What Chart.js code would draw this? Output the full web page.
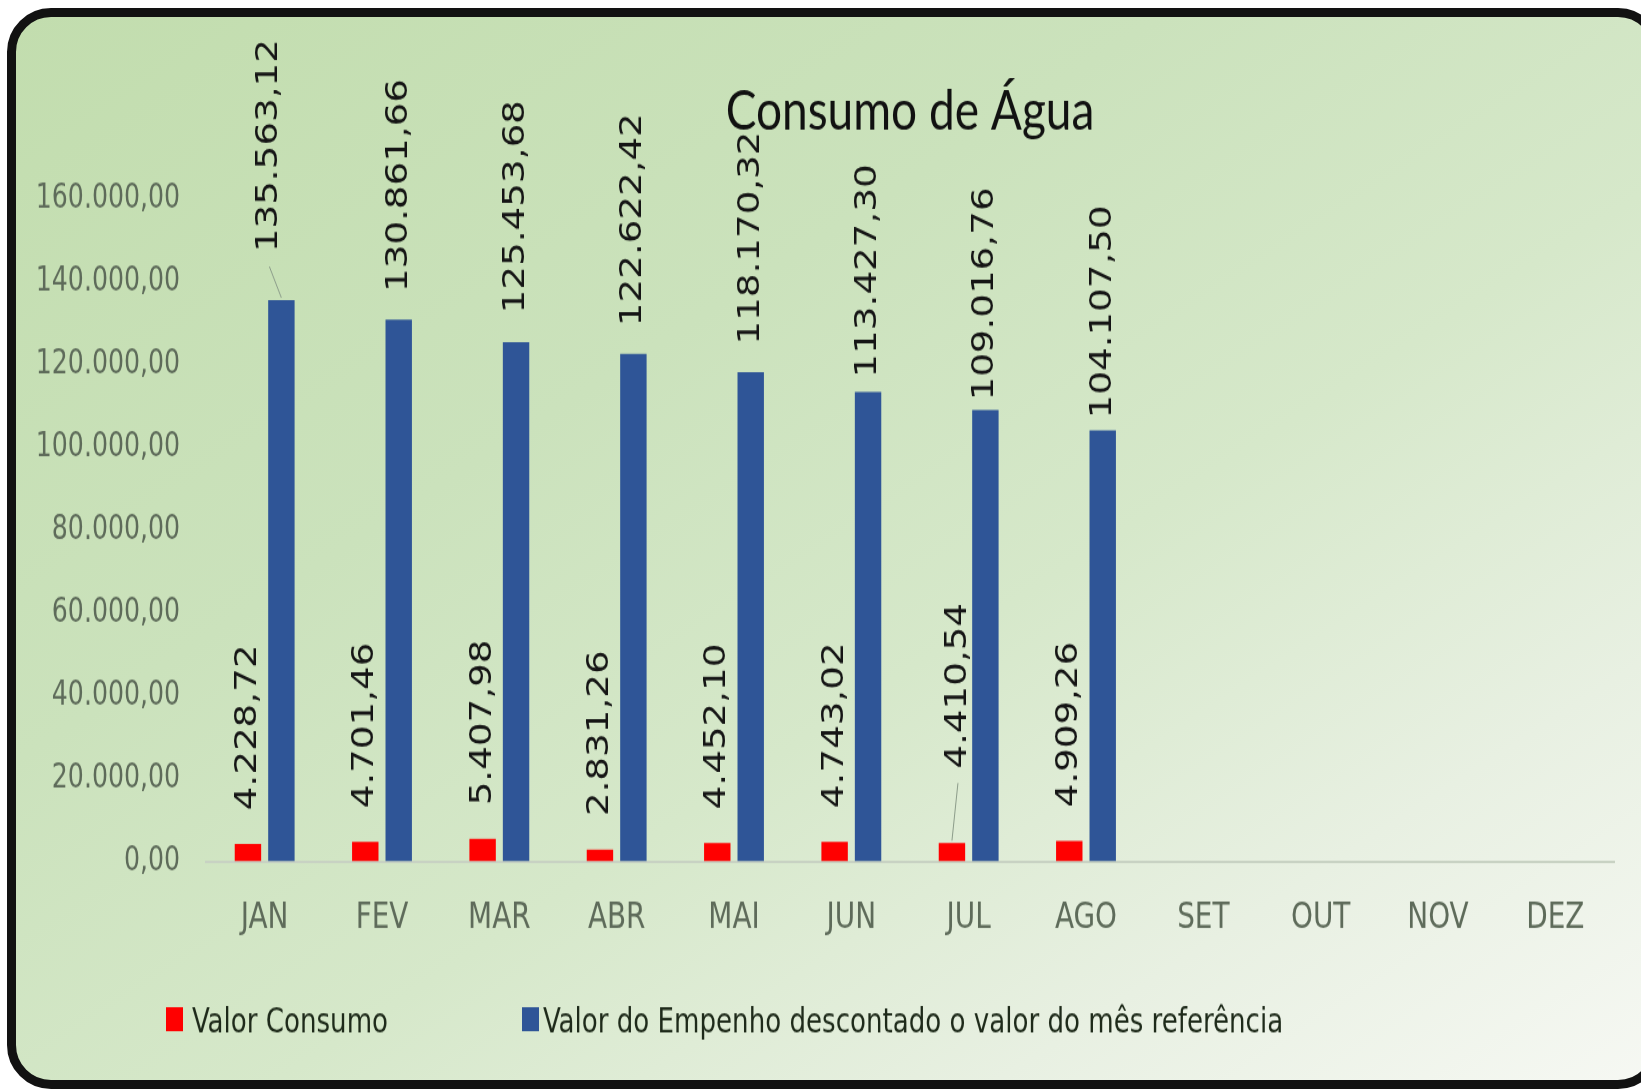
<!DOCTYPE html>
<html lang="pt-BR">
<head>
<meta charset="utf-8">
<title>Consumo de Água</title>
<script src="https://cdn.jsdelivr.net/npm/chart.js@4/dist/chart.umd.min.js"></script>
<style>
  html, body { margin: 0; padding: 0; background: #fff; overflow: hidden; }
  #card {
    position: absolute;
    left: 7px; top: 8px;
    width: 1655px; height: 1081px;
    box-sizing: border-box;
    border: 9px solid #121212;
    border-radius: 44px;
    background: linear-gradient(to bottom right, #c2ddae 0%, #cbe2bc 35%, #d6e8ca 58%, #e8f0e2 80%, #f6f8f3 100%);
  }
  #grafico { position: absolute; left: 0; top: 0; }
</style>
</head>
<body>
<div id="card"></div>
<!-- desenhado em 1641x908 e esticado na vertical -->
<canvas id="grafico" width="1641" height="908" style="width:1641px;height:1090px"></canvas>
<script>
const meses = ["JAN", "FEV", "MAR", "ABR", "MAI", "JUN", "JUL", "AGO", "SET", "OUT", "NOV", "DEZ"];
const valorConsumo = [4228.72, 4701.46, 5407.98, 2831.26, 4452.10, 4743.02, 4410.54, 4909.26, null, null, null, null];
const valorEmpenho = [135563.12, 130861.66, 125453.68, 122622.42, 118170.32, 113427.30, 109016.76, 104107.50, null, null, null, null];
const eixoMin = 0;
const eixoMax = 160000;
const eixoPasso = 20000;

// distância (px) entre o topo da barra e o início do rótulo
const afastConsumo = [28, 28, 28, 28, 28, 28, 62, 28];
const afastEmpenho = [40, 23, 24, 23, 23, 12, 8, 10];
// rótulos arrastados para o lado, com linha de chamada
const desvioConsumo = { 6: 6 };
const desvioEmpenho = { 0: -12 };

const fonteEstreita = "'DejaVu Sans Condensed', 'DejaVu Sans', sans-serif";

function moedaBR(v) {
  const partes = v.toFixed(2).split('.');
  return partes[0].replace(/\B(?=(\d{3})+(?!\d))/g, '.') + ',' + partes[1];
}

// rótulos de valor verticais acima de cada barra
const rotulosPlugin = {
  id: 'rotulos',
  afterDatasetsDraw(chart) {
    const ctx = chart.ctx;
    const ajustes = [
      { afast: afastConsumo, desvio: desvioConsumo },
      { afast: afastEmpenho, desvio: desvioEmpenho }
    ];
    ctx.save();
    ctx.font = "31px 'DejaVu Sans', sans-serif";
    ctx.fillStyle = '#151515';
    ctx.textAlign = 'left';
    ctx.textBaseline = 'middle';
    chart.data.datasets.forEach((ds, di) => {
      const meta = chart.getDatasetMeta(di);
      meta.data.forEach((barra, i) => {
        const v = ds.data[i];
        if (v == null) return;
        const dx = ajustes[di].desvio[i] || 0;
        const x = barra.x + dx;
        const y = barra.y - ajustes[di].afast[i];
        if (dx !== 0) {
          ctx.save();
          ctx.strokeStyle = '#8c9c8a';
          ctx.lineWidth = 1;
          ctx.beginPath();
          ctx.moveTo(x, y + 12);
          ctx.lineTo(barra.x, barra.y - 2);
          ctx.stroke();
          ctx.restore();
        }
        ctx.save();
        ctx.translate(x, y);
        ctx.rotate(-Math.PI / 2);
        ctx.fillText(moedaBR(v), 0, 0);
        ctx.restore();
      });
    });
    ctx.restore();
  }
};

// legenda no rodapé, alinhada à esquerda como no relatório
const legendaPlugin = {
  id: 'legendaRodape',
  afterDraw(chart, args, opts) {
    const ctx = chart.ctx;
    ctx.save();
    ctx.font = opts.fonte;
    ctx.textAlign = 'left';
    ctx.textBaseline = 'alphabetic';
    chart.data.datasets.forEach((ds, i) => {
      ctx.fillStyle = ds.backgroundColor;
      ctx.fillRect(opts.caixaX[i], opts.caixaTopo, opts.caixaLarg, opts.caixaAlt);
      ctx.fillStyle = opts.cor;
      ctx.fillText(ds.label, opts.textoX[i], opts.linhaBase);
    });
    ctx.restore();
  }
};

new Chart(document.getElementById('grafico'), {
  type: 'bar',
  data: {
    labels: meses,
    datasets: [
      {
        label: 'Valor Consumo',
        data: valorConsumo,
        backgroundColor: '#ff0000',
        categoryPercentage: 0.57,
        barPercentage: 0.79
      },
      {
        label: 'Valor do Empenho descontado o valor do mês referência',
        data: valorEmpenho,
        backgroundColor: '#2f5597',
        categoryPercentage: 0.57,
        barPercentage: 0.79
      }
    ]
  },
  options: {
    responsive: false,
    devicePixelRatio: 1,
    animation: false,
    layout: { padding: { left: 0, right: 27, top: 0, bottom: 0 } },
    scales: {
      x: {
        grid: { display: false, drawTicks: false },
        border: { display: true, color: '#c8d2c3', width: 2 },
        ticks: {
          color: '#5e6b5a',
          font: { family: fonteEstreita, size: 31 },
          padding: 29,
          maxRotation: 0
        },
        afterFit(scale) { scale.height = 190.5; }
      },
      y: {
        min: eixoMin,
        max: eixoMax,
        grid: { display: false, drawTicks: false },
        border: { display: false },
        ticks: {
          stepSize: eixoPasso,
          color: '#5e6b5a',
          font: { family: fonteEstreita, size: 28 },
          padding: 26,
          callback: v => moedaBR(v)
        },
        afterFit(scale) { scale.width = 206; }
      }
    },
    plugins: {
      legend: { display: false },
      tooltip: { enabled: false },
      title: {
        display: true,
        text: 'Consumo de Água',
        fullSize: false,
        color: '#111',
        font: { family: "Lato, 'Liberation Sans', sans-serif", size: 46, weight: 'normal' },
        padding: { top: 66, bottom: 44.6 }
      },
      legendaRodape: {
        fonte: "29px " + fonteEstreita,
        cor: '#1e2a1a',
        caixaX: [166, 522],
        textoX: [192, 543],
        caixaTopo: 839,
        caixaLarg: 17,
        caixaAlt: 20,
        linhaBase: 860
      }
    }
  },
  plugins: [rotulosPlugin, legendaPlugin]
});
</script>
</body>
</html>
